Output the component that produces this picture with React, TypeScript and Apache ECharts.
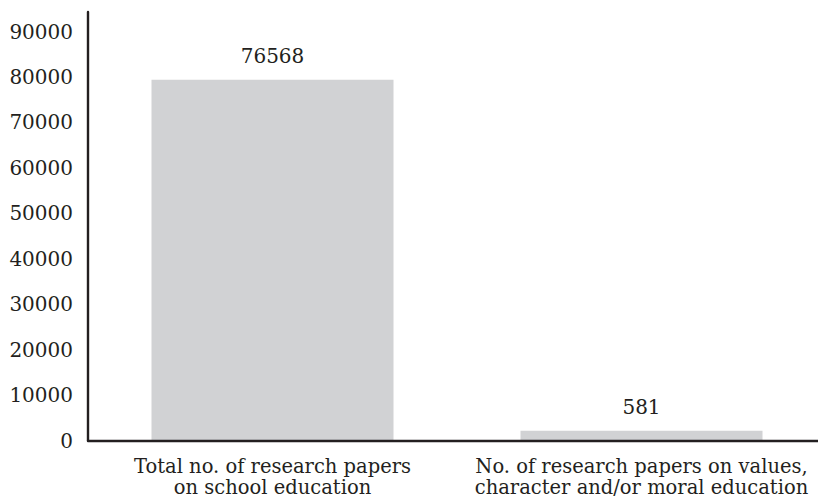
import React, { useEffect, useRef } from "react";
import * as echarts from "echarts";

const categories = [
  "Total no. of research papers\non school education",
  "No. of research papers on values,\ncharacter and/or moral education",
];
// bar heights as drawn in the picture
const barValues = [79400, 2150];
// value labels as printed above the bars
const valueLabels = ["76568", "581"];
const yMin = 0;
const yMax = 94300;
const yInterval = 10000;

const FONT = "DejaVu Serif";
const INK = "#231f20";

export default function App() {
  const ref = useRef<HTMLDivElement>(null);
  useEffect(() => {
    if (!ref.current) return;
    const chart = echarts.init(ref.current, undefined, { renderer: "svg" });
    chart.setOption({
      animation: false,
      backgroundColor: "#ffffff",
      grid: {
        left: 88,
        width: 738,
        top: 12,
        bottom: 62.5,
        containLabel: false,
        outerBoundsMode: "none",
      },
      xAxis: {
        type: "category",
        data: categories,
        z: 10,
        axisLine: { show: true, lineStyle: { color: INK, width: 2.4 } },
        axisTick: { show: false },
        axisLabel: {
          fontFamily: FONT,
          fontSize: 19.5,
          lineHeight: 21,
          color: INK,
          margin: 15,
          interval: 0,
        },
        splitLine: { show: false },
      },
      yAxis: {
        type: "value",
        min: yMin,
        max: yMax,
        interval: yInterval,
        z: 10,
        axisLine: { show: true, lineStyle: { color: INK, width: 2.4 } },
        axisTick: { show: false },
        splitLine: { show: false },
        axisLabel: {
          fontFamily: FONT,
          fontSize: 20,
          color: INK,
          margin: 15,
          showMaxLabel: false,
          formatter: (v: number) => (v % yInterval === 0 ? String(v) : ""),
        },
      },
      series: [
        {
          type: "bar",
          data: barValues,
          barWidth: 242,
          itemStyle: { color: "#d1d2d4" },
          label: {
            show: true,
            position: "top",
            distance: 14,
            fontFamily: FONT,
            fontSize: 20,
            color: INK,
            formatter: (p: any) => valueLabels[p.dataIndex],
          },
        },
      ],
    });
    return () => chart.dispose();
  }, []);
  return (
    <div
      ref={ref}
      style={{ position: "absolute", left: 0, top: 0, width: 818, height: 503 }}
    />
  );
}
